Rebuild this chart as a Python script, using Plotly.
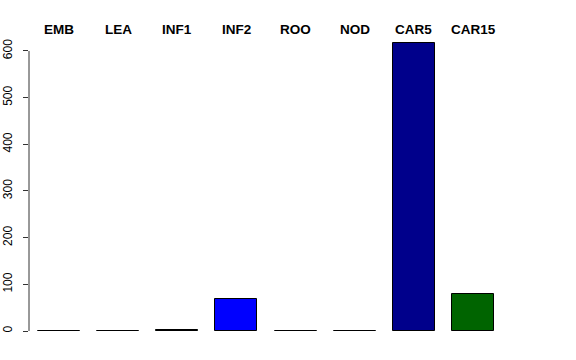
import plotly.graph_objects as go

categories = ["EMB", "LEA", "INF1", "INF2", "ROO", "NOD", "CAR5", "CAR15"]
values = [0.5, 0.5, 2, 68, 0.5, 0.5, 617, 78.5]
colors = ["#808080", "#A0522D", "#006400", "#0000FF", "#9080A0", "#9080A0", "#00008B", "#006400"]
y_ticks = [0, 100, 200, 300, 400, 500, 600]

xs = list(range(len(categories)))

fig = go.Figure()
fig.add_trace(go.Bar(
    x=xs, y=values, width=0.71,
    marker=dict(color=colors, line=dict(color="black", width=1)),
    hoverinfo="skip",
))

for i, c in enumerate(categories):
    fig.add_annotation(x=i, y=1.036, xref="x", yref="paper", text="<b>%s</b>" % c,
                       showarrow=False, yanchor="middle", xanchor="center",
                       font=dict(family="Liberation Sans, Arial, sans-serif", size=13.5, color="black"))

fig.add_shape(type="line", xref="paper", yref="y", x0=0, x1=0, y0=y_ticks[0], y1=y_ticks[-1],
              line=dict(color="#333333", width=1))

fig.update_layout(
    width=576, height=360,
    margin=dict(l=29, r=60, t=40, b=29, autoexpand=False),
    plot_bgcolor="white", paper_bgcolor="white",
    showlegend=False,
    bargap=0,
    xaxis=dict(range=[-0.507, 7.727], showticklabels=False, showgrid=False, zeroline=False,
               showline=False, ticks="", automargin=False),
    yaxis=dict(range=[0, 623.5], tickvals=y_ticks, ticktext=[str(v) for v in y_ticks],
               tickangle=-90, ticks="outside", ticklen=5, tickcolor="#333333", tickwidth=1,
               showgrid=False, zeroline=False, showline=False, ticklabelstandoff=6,
               automargin=False,
               tickfont=dict(family="Liberation Sans, Arial, sans-serif", size=12, color="black")),
)

fig.write_html("out.html")
